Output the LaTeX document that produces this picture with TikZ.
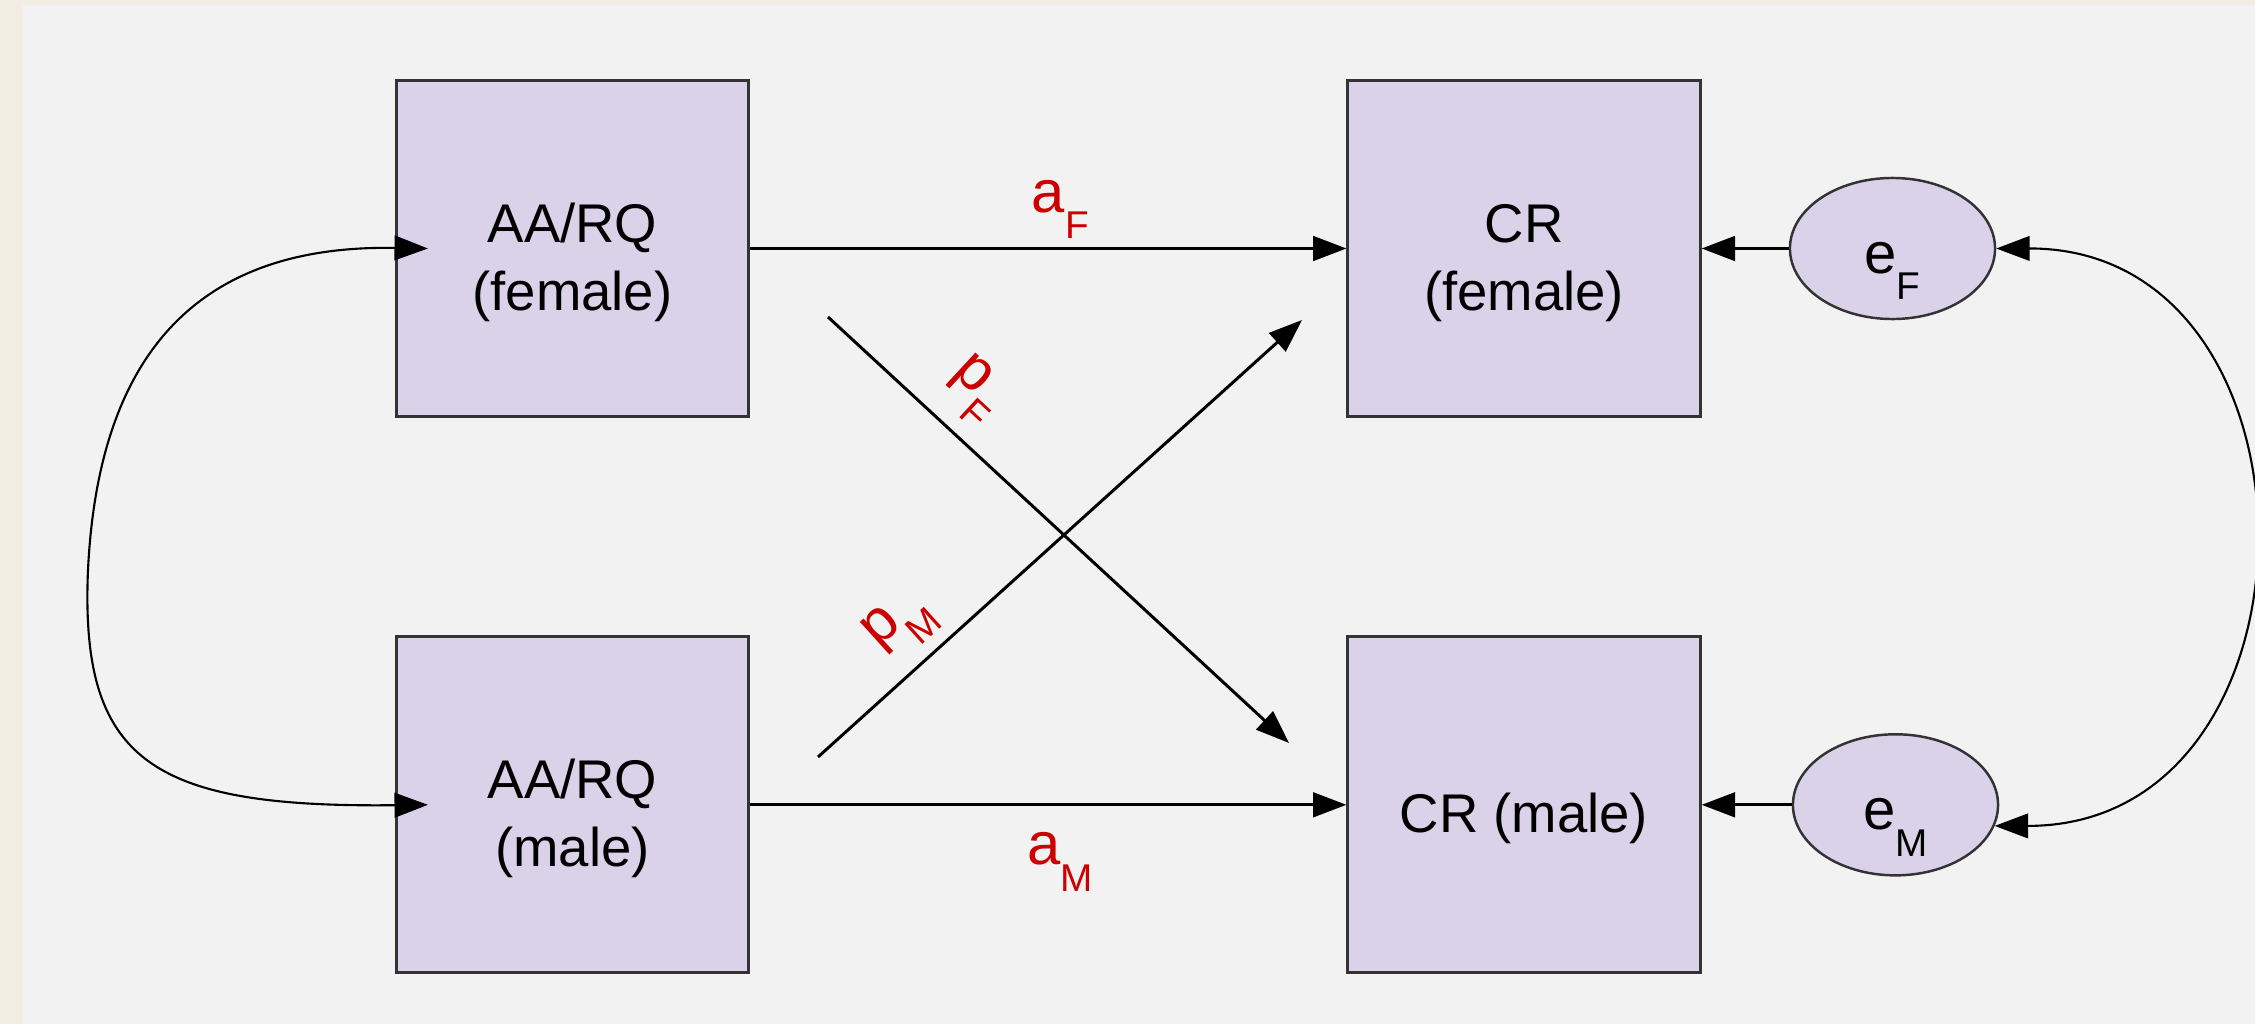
\documentclass[tikz,border=0pt]{standalone}
\usepackage{fontspec}
\setmainfont{Liberation Sans}
\usepackage{xcolor}
\usetikzlibrary{positioning,arrows.meta,shapes.geometric}

\definecolor{boxfill}{HTML}{D9D2E9}
\definecolor{panel}{HTML}{F2F2F2}
\definecolor{paper}{HTML}{F1EDE2}
\definecolor{lblred}{HTML}{CC0000}
\newcommand{\vsub}[2]{#1\raisebox{-7.6pt}{\fontsize{11}{11}\selectfont #2}}
\newcommand{\lift}{\rule{0pt}{19pt}}

\begin{document}
\begin{tikzpicture}[x=0.01cm, y=-0.01cm,
  node distance=2.17cm and 5.96cm,
  var/.style={draw=black!80, fill=boxfill, line width=0.85pt, minimum width=3.52cm, minimum height=3.36cm, align=center, font=\fontsize{15.5}{19.4}\selectfont},
  err/.style={draw=black!80, fill=boxfill, ellipse, line width=0.7pt, minimum width=2.05cm, minimum height=1.41cm, inner sep=0pt, text height=14pt, text depth=0pt, font=\fontsize{16.5}{16.5}\selectfont},
  lbl/.style={text=lblred, inner sep=0pt, font=\fontsize{17}{17}\selectfont},
  ar/.style={line width=0.85pt, -{Triangle[length=9.5pt,width=7pt]}},
  cov/.style={line width=0.6pt, {Triangle[length=9.5pt,width=7pt]}-{Triangle[length=9.5pt,width=7pt]}}]

  \useasboundingbox (0,0) rectangle (2255,1024);
  \fill[paper] (0,0) rectangle (2255,1024);
  \fill[panel] (23,5) rectangle (2255,1024);

  \node[var] (aaf) at (572.5,248.5) {\lift AA/RQ\\(female)};
  \node[var, below=of aaf] (aam) {\lift AA/RQ\\(male)};
  \node[var, right=of aaf] (crf) {\lift CR\\(female)};
  \node[var, below=of crf] (crm) {\lift CR (male)};
  \node[err, right=0.87cm of crf] (ef) {\vsub{e}{F}};
  \node[err, right=0.90cm of crm] (em) {\vsub{e}{M}};

  \coordinate (pf0) at (828,317);
  \coordinate (pf1) at (1289,743);
  \coordinate (pm0) at (818,757);
  \coordinate (pm1) at (1302,320);
  \coordinate (bend) at (88,570);

  \draw[ar] (aaf) -- (crf) node[lbl, pos=0.52, above=2.3pt] {\vsub{a}{F}};
  \draw[ar] (aam) -- (crm) node[lbl, pos=0.52, below=7.5pt] {\vsub{a}{M}};
  \draw[ar] (pf0) -- (pf1) node[lbl, sloped, pos=0.25, above=4pt] {\vsub{p}{F}};
  \draw[ar] (pm0) -- (pm1) node[lbl, sloped, pos=0.23, above=3.3pt] {\vsub{p}{M}};
  \draw[ar] (ef) -- (crf);
  \draw[ar] (em) -- (crm);

  \draw[cov] ([xshift=0.33cm]aaf.west) .. controls (230,245) and (100,320) .. (bend)
    .. controls (80,760) and (150,808) .. ([xshift=0.33cm]aam.west);
  \draw[cov] (ef.east) .. controls (2335,248) and (2335,826) .. (em.-12);
\end{tikzpicture}
\end{document}
